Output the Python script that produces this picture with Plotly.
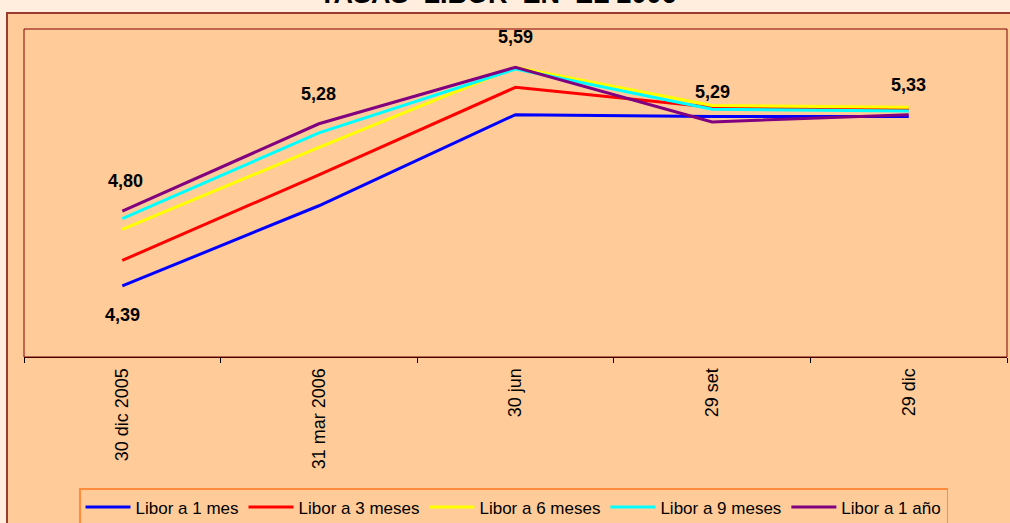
import plotly.graph_objects as go

# ---- data ----
categories = ["30 dic 2005", "31 mar 2006", "30 jun", "29 set", "29 dic"]
libor_1m = [4.39, 4.83, 5.33, 5.32, 5.32]
libor_3m = [4.53, 5.00, 5.48, 5.37, 5.36]
libor_6m = [4.70, 5.15, 5.59, 5.38, 5.37]
libor_9m = [4.76, 5.23, 5.58, 5.36, 5.35]
libor_12m = [4.80, 5.28, 5.59, 5.29, 5.33]
series_names = ["Libor a 1 mes", "Libor a 3 meses", "Libor a 6 meses",
                "Libor a 9 meses", "Libor a 1 año"]
title_text = "TASAS\u00a0 LIBOR\u00a0 EN\u00a0 EL 2006"

# ---- styles ----
line_colors = ["#0000FF", "#FF0000", "#FFFF00", "#00FFFF", "#800080"]
FONT = "Liberation Sans, Arial, sans-serif"
PAGE_BG = "#FFEEDD"
CHART_BG = "#FFCC99"

W, H = 1010, 523
L, R, T, B = 24, 3, 29, 166
pw, ph = W - L - R, H - T - B


def px_x(px):
    return (px - L) / pw


def px_y(py):
    return (H - B - py) / ph


series = [libor_1m, libor_3m, libor_6m, libor_9m, libor_12m]

fig = go.Figure()
for name, vals, col in zip(series_names, series, line_colors):
    fig.add_trace(go.Scatter(
        x=categories, y=vals, name=name, mode="lines",
        line=dict(color=col, width=3),
    ))


def fmt(v):
    return f"{v:.2f}".replace(".", ",")


annotations = []
# labels above the 1-year series
for i, c in enumerate(categories):
    annotations.append(dict(
        x=c, y=libor_12m[i], xref="x", yref="y", text=fmt(libor_12m[i]),
        showarrow=False, yshift=30, xshift=3 if i == 0 else 0,
        font=dict(family=FONT, size=18, color="#000000", weight="bold"),
    ))
# label below the 1-month series at the first date
annotations.append(dict(
    x=categories[0], y=libor_1m[0], xref="x", yref="y", text=fmt(libor_1m[0]),
    showarrow=False, yshift=-29,
    font=dict(family=FONT, size=18, color="#000000", weight="bold"),
))
# title (partly cut off at the top of the page, as in the reference)
annotations.append(dict(
    x=px_x(498), y=px_y(11), xref="paper", yref="paper", text="<b>" + title_text + "</b>",
    showarrow=False, xanchor="center", yanchor="bottom",
    font=dict(family=FONT, size=27, color="#000000"),
))

shapes = [
    # outer chart area
    dict(type="rect", xref="paper", yref="paper", layer="below",
         x0=px_x(7), x1=px_x(1016), y0=px_y(530), y1=px_y(13),
         fillcolor=CHART_BG, line=dict(color="#9B3A2E", width=2)),
    # plot area border
    dict(type="rect", xref="paper", yref="paper", layer="above",
         x0=0, x1=1, y0=0, y1=1,
         line=dict(color="#800000", width=1)),
]

fig.update_layout(
    width=W, height=H,
    margin=dict(l=L, r=R, t=T, b=B, pad=0, autoexpand=False),
    paper_bgcolor=PAGE_BG,
    plot_bgcolor=CHART_BG,
    showlegend=True,
    legend=dict(
        orientation="h", x=px_x(79), y=px_y(488), xanchor="left", yanchor="top",
        bgcolor=CHART_BG, bordercolor="#FF8C3A", borderwidth=1.5,
        font=dict(family=FONT, size=17, color="#000000"),
        itemwidth=45, tracegroupgap=0,
    ),
    xaxis=dict(
        type="category", range=[-0.5, 4.5], tickson="boundaries",
        showline=True, linecolor="#000000", linewidth=1,
        ticks="outside", ticklen=5, tickcolor="#000000",
        tickangle=-90, ticklabelstandoff=3, automargin=False,
        tickfont=dict(family=FONT, size=18, color="#000000"),
        showgrid=False, zeroline=False,
    ),
    yaxis=dict(
        range=[4.0, 5.8], visible=False, showgrid=False, zeroline=False,
        automargin=False,
    ),
    annotations=annotations,
    shapes=shapes,
)

fig.write_html(
    "out.html",
    config={"displayModeBar": False},
    post_script="document.body.style.margin='0';document.body.style.overflow='hidden';",
)
